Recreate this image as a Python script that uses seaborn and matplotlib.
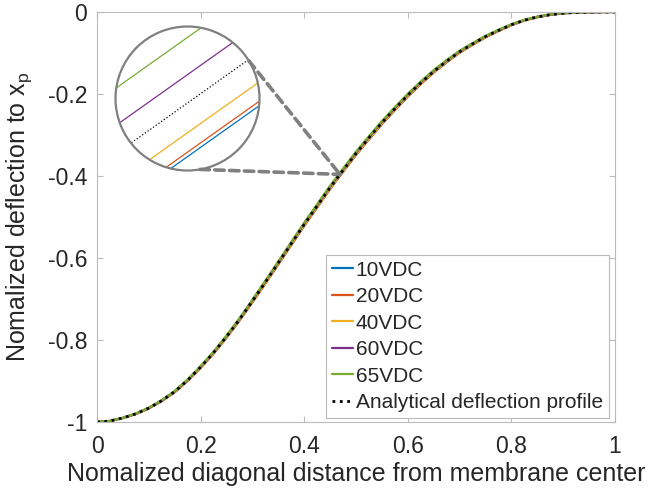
import numpy as np
import matplotlib
matplotlib.use("Agg")
import matplotlib.pyplot as plt
import seaborn as sns
from matplotlib.patches import Circle, ConnectionPatch

# ---- data ----
x = [0.000, 0.025, 0.050, 0.075, 0.100, 0.125, 0.150, 0.175, 0.200, 0.225,
     0.250, 0.275, 0.300, 0.325, 0.350, 0.375, 0.400, 0.425, 0.450, 0.475,
     0.500, 0.525, 0.550, 0.575, 0.600, 0.625, 0.650, 0.675, 0.700, 0.725,
     0.750, 0.775, 0.800, 0.825, 0.850, 0.875, 0.900, 0.925, 0.950, 0.975, 1.000]

v10 = [-1.0000, -0.9977, -0.9904, -0.9806, -0.9669, -0.9492, -0.9274, -0.8997, -0.8680, -0.8332,
       -0.7945, -0.7527, -0.7080, -0.6621, -0.6153, -0.5684, -0.5215, -0.4766, -0.4316, -0.3896,
       -0.3486, -0.3105, -0.2734, -0.2393, -0.2061, -0.1759, -0.1477, -0.1225, -0.0992, -0.0799,
       -0.0616, -0.0464, -0.0321, -0.0208, -0.0126, -0.0069, -0.0033, -0.0013, -0.0006, -0.0001, 0.0000]
v20 = [-1.0000, -0.9977, -0.9903, -0.9806, -0.9668, -0.9491, -0.9273, -0.8996, -0.8678, -0.8331,
       -0.7943, -0.7525, -0.7077, -0.6619, -0.6150, -0.5681, -0.5212, -0.4763, -0.4313, -0.3893,
       -0.3483, -0.3102, -0.2731, -0.2390, -0.2059, -0.1757, -0.1475, -0.1222, -0.0990, -0.0798,
       -0.0615, -0.0463, -0.0320, -0.0208, -0.0126, -0.0069, -0.0032, -0.0013, -0.0006, -0.0001, 0.0000]
v40 = [-1.0000, -0.9976, -0.9902, -0.9803, -0.9665, -0.9486, -0.9268, -0.8989, -0.8671, -0.8322,
       -0.7934, -0.7515, -0.7066, -0.6607, -0.6138, -0.5669, -0.5200, -0.4750, -0.4300, -0.3880,
       -0.3470, -0.3090, -0.2719, -0.2378, -0.2047, -0.1746, -0.1465, -0.1214, -0.0982, -0.0791,
       -0.0609, -0.0458, -0.0316, -0.0205, -0.0123, -0.0067, -0.0031, -0.0013, -0.0005, -0.0001, 0.0000]
v60 = [-1.0000, -0.9974, -0.9898, -0.9797, -0.9655, -0.9474, -0.9252, -0.8971, -0.8650, -0.8298,
       -0.7907, -0.7486, -0.7034, -0.6574, -0.6103, -0.5632, -0.5161, -0.4711, -0.4261, -0.3841,
       -0.3431, -0.3051, -0.2682, -0.2343, -0.2014, -0.1715, -0.1436, -0.1187, -0.0959, -0.0770,
       -0.0591, -0.0443, -0.0304, -0.0196, -0.0117, -0.0063, -0.0029, -0.0011, -0.0005, -0.0001, 0.0000]
v65 = [-1.0000, -0.9973, -0.9896, -0.9793, -0.9649, -0.9466, -0.9242, -0.8959, -0.8636, -0.8283,
       -0.7889, -0.7467, -0.7014, -0.6552, -0.6080, -0.5608, -0.5137, -0.4686, -0.4236, -0.3816,
       -0.3406, -0.3027, -0.2658, -0.2320, -0.1992, -0.1694, -0.1417, -0.1170, -0.0944, -0.0757,
       -0.0580, -0.0433, -0.0297, -0.0190, -0.0112, -0.0060, -0.0027, -0.0010, -0.0004, -0.0001, 0.0000]
analytical = [-1.0000, -0.9975, -0.9900, -0.9800, -0.9660, -0.9480, -0.9260, -0.8980, -0.8660, -0.8310,
              -0.7920, -0.7500, -0.7050, -0.6590, -0.6120, -0.5650, -0.5180, -0.4730, -0.4280, -0.3860,
              -0.3450, -0.3070, -0.2700, -0.2360, -0.2030, -0.1730, -0.1450, -0.1200, -0.0970, -0.0780,
              -0.0600, -0.0450, -0.0310, -0.0200, -0.0120, -0.0065, -0.0030, -0.0012, -0.0005, -0.0001, 0.0000]

labels = ["10VDC", "20VDC", "40VDC", "60VDC", "65VDC"]
series = [v10, v20, v40, v60, v65]
colors = ["#0072BD", "#D95319", "#EDB120", "#7E2F8E", "#77AC30"]

xticks = [0, 0.2, 0.4, 0.6, 0.8, 1]
xticklabels = ["0", "0.2", "0.4", "0.6", "0.8", "1"]
yticks = [-1, -0.8, -0.6, -0.4, -0.2, 0]
yticklabels = ["-1", "-0.8", "-0.6", "-0.4", "-0.2", "0"]

zoom_x = 0.469  # zoomed location

# ---- style ----
sns.set_style("white")
plt.rcParams["font.family"] = ["Liberation Sans", "DejaVu Sans"]
plt.rcParams["mathtext.fontset"] = "custom"
plt.rcParams["mathtext.rm"] = "Liberation Sans"
plt.rcParams["mathtext.it"] = "Liberation Sans"
plt.rcParams["axes.unicode_minus"] = False

W, H = 657, 498
fig = plt.figure(figsize=(W / 100, H / 100), dpi=100)
fig.patch.set_facecolor("white")
ax = fig.add_axes([97 / W, (H - 422) / H, (615 - 97) / W, (422 - 12) / H])

for lab, vals, c in zip(labels, series, colors):
    sns.lineplot(x=x, y=vals, ax=ax, color=c, lw=1.6, label=lab)
sns.lineplot(x=x, y=analytical, ax=ax, color="black", lw=2.0, linestyle=":",
             label="Analytical deflection profile")

ax.set_xlim(0, 1)
ax.set_ylim(-1, 0)
ax.set_xticks(xticks)
ax.set_xticklabels(xticklabels)
ax.set_yticks(yticks)
ax.set_yticklabels(yticklabels)
ax.tick_params(direction="in", top=True, right=True, bottom=True, left=True,
               length=4, width=0.8, color="#BBBBBB", labelcolor="#262626",
               labelsize=16.5)
ax.tick_params(axis="x", pad=9)
ax.tick_params(axis="y", pad=7)
for s in ax.spines.values():
    s.set_color("#BBBBBB")
    s.set_linewidth(0.8)
ax.set_xlabel("Nomalized diagonal distance from membrane center", fontsize=18,
              color="#262626", labelpad=3)
ax.set_ylabel(r"Nomalized deflection to x$_\mathrm{p}$", fontsize=18,
              color="#262626", labelpad=10)

leg = ax.legend(loc="lower right", bbox_to_anchor=(0.988, 0.01), borderaxespad=0,
                fontsize=15, frameon=True, fancybox=False, framealpha=1,
                edgecolor="#BBBBBB", handlelength=1.0, handletextpad=0.15,
                labelspacing=0.36, borderpad=0.28)
leg.get_frame().set_linewidth(0.8)
for t in leg.get_texts():
    t.set_color("#262626")

# ---- circular zoom inset ----
cx, cy, r = 187.5, 98.5, 72
ins = fig.add_axes([(cx - r) / W, (H - cy - r) / H, 2 * r / W, 2 * r / H])
ins.set_facecolor("none")
y_c = float(np.interp(zoom_x, x, analytical)) + 0.0003
hx, hy = 0.00204, 0.00483
for lab, vals, c in zip(labels, series, colors):
    sns.lineplot(x=x, y=vals, ax=ins, color=c, lw=0.9, legend=False)
sns.lineplot(x=x, y=analytical, ax=ins, color="black", lw=0.9, linestyle=":", legend=False)
ins.set_xlim(zoom_x - hx, zoom_x + hx)
ins.set_ylim(y_c - hy, y_c + hy)
ins.axis("off")
clip = Circle((0.5, 0.5), 0.5, transform=ins.transAxes, facecolor="none", edgecolor="none")
ins.add_patch(clip)
for ln in ins.lines:
    ln.set_clip_path(clip)
ring = Circle((0.5, 0.5), 0.5, transform=ins.transAxes, facecolor="none",
              edgecolor="#808080", lw=1.6, clip_on=False, zorder=5)
ins.add_patch(ring)

# connector lines
y_pt = float(np.interp(zoom_x, x, analytical))
for ang in (31.8, -80.0):
    a = np.deg2rad(ang)
    con = ConnectionPatch(xyA=(0.5 + 0.5 * np.cos(a), 0.5 + 0.5 * np.sin(a)), coordsA=ins.transAxes,
                          xyB=(zoom_x, y_pt), coordsB=ax.transData,
                          color="#808080", lw=2.6, linestyle=(0, (2.6, 1.5)), zorder=6)
    fig.add_artist(con)

fig.savefig("out.png", dpi=100, facecolor="white")
